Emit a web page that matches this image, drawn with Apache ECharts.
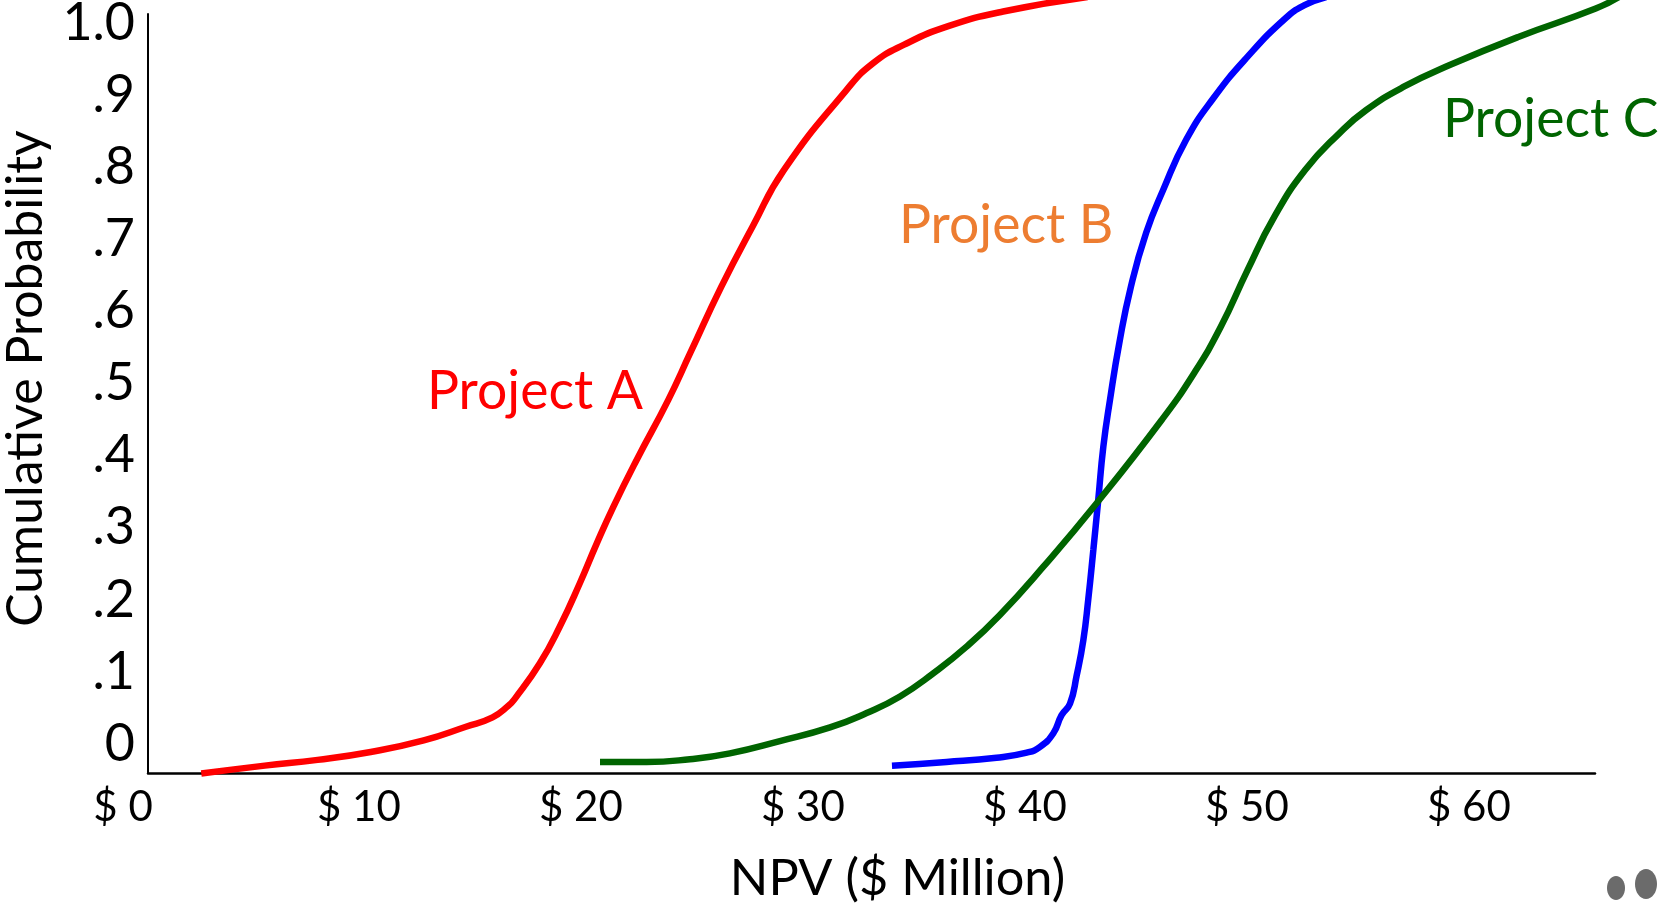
<!DOCTYPE html>
<html>
<head>
<meta charset="utf-8">
<title>NPV cumulative probability</title>
<script src="https://cdn.jsdelivr.net/npm/echarts@6/dist/echarts.min.js"></script>
<style>
html, body { margin: 0; padding: 0; background: #fff; }
#chart { width: 1661px; height: 904px; }
</style>
</head>
<body>
<div id="chart"></div>
<script>
// tick labels
const xTickValues = [0.5, 10, 20, 30, 40, 50, 60]
const xTickLabels = ['$ 0', '$ 10', '$ 20', '$ 30', '$ 40', '$ 50', '$ 60']
const yTickValues = [0, 0.1, 0.2, 0.3, 0.4, 0.5, 0.6, 0.7, 0.8, 0.9, 1]
const yTickLabels = ['0', '.1', '.2', '.3', '.4', '.5', '.6', '.7', '.8', '.9', '1.0']

// values: [NPV, cumulative probability]
const projectA = [
    [2.9, -0.041], [5.76, -0.03], [8.14, -0.022], [10.53, -0.011], [12.92, 0.005],
    [14.82, 0.024], [16.02, 0.037], [16.73, 0.053], [17.03, 0.063], [18.15, 0.112],
    [19.05, 0.163], [19.95, 0.223], [20.71, 0.278], [21.46, 0.329], [22.51, 0.394],
    [23.93, 0.477], [24.92, 0.542], [26.32, 0.634], [27.74, 0.718], [29.14, 0.796],
    [31.96, 0.907], [33.15, 0.944], [34.56, 0.97], [36.58, 0.996],
    [39.02, 1.016], [42.82, 1.036],
]
const projectB = [
    [34.01, -0.03], [36.47, -0.025], [38.72, -0.019], [40.08, -0.012], [40.68, -0.004],
    [41.28, 0.015], [41.65, 0.04], [42.03, 0.056], [42.33, 0.095], [42.63, 0.144],
    [42.85, 0.2], [43.08, 0.269], [43.3, 0.338], [43.53, 0.412], [43.83, 0.477],
    [44.25, 0.556], [44.77, 0.634], [45.46, 0.709], [46.22, 0.768], [47.26, 0.838],
    [48.47, 0.895], [50.02, 0.953], [51.75, 1.007], [52.62, 1.025], [53.57, 1.036],
]
const projectC = [
    [20.86, -0.025], [22.96, -0.025], [24.91, -0.021], [26.71, -0.013], [28.96, 0.004],
    [31.22, 0.023], [32.87, 0.043], [34.37, 0.066], [35.87, 0.098], [37.37, 0.135],
    [38.87, 0.179], [40.83, 0.246], [43.23, 0.334], [46.15, 0.449],
    [47.61, 0.514], [48.81, 0.578], [50.02, 0.657], [51.23, 0.731], [52.62, 0.796],
    [54.16, 0.847], [55.36, 0.879], [57.09, 0.912], [59.16, 0.942], [62.25, 0.981],
    [65.71, 1.02], [66.75, 1.036],
]

const FONT = 'Lato'
const Y_MIN = -0.0402
const Y_MAX = 1.0125

function curve(name, data, color) {
    return {
        name,
        type: 'line',
        // clip:false does not lift the clip along the x axis, so the curves live on a wider hidden grid
        xAxisIndex: 1,
        yAxisIndex: 1,
        data,
        smooth: 0.5,
        symbol: 'none',
        clip: false,
        lineStyle: { color, width: 6.5 },
        animation: false,
    }
}

function projectLabel(text, left, top, fill) {
    return {
        type: 'text',
        left,
        top,
        style: { text, fill, font: '53.5px ' + FONT },
    }
}

const chart = echarts.init(document.getElementById('chart'), null, { renderer: 'canvas' })

chart.setOption({
    animation: false,
    backgroundColor: '#fff',
    grid: [
        { left: 148, right: 66, top: 14, bottom: 131, outerBoundsMode: 'none' },
        { left: 148, right: 0, top: 14, bottom: 131, outerBoundsMode: 'none' },
    ],
    xAxis: [{
        type: 'value',
        gridIndex: 0,
        min: 0.5,
        max: 65.68,
        splitLine: { show: false },
        axisTick: { show: false },
        axisLine: { onZero: false, lineStyle: { color: '#000', width: 2.5 } },
        name: 'NPV ($ Million)',
        nameLocation: 'middle',
        nameGap: 80,
        nameTextStyle: { color: '#000', fontFamily: FONT, fontSize: 50.5, padding: [0, 0, 0, 52] },
        axisLabel: {
            customValues: xTickValues,
            margin: 13,
            color: '#000',
            fontFamily: FONT,
            fontSize: 42,
            formatter: (v) => {
                const label = xTickLabels[xTickValues.indexOf(v)]
                return v === xTickValues[0] ? '{first|' + label + '}' : label
            },
            rich: { first: { fontFamily: FONT, fontSize: 42, color: '#000', padding: [0, 50, 0, 0] } },
        },
    }, {
        type: 'value',
        gridIndex: 1,
        show: false,
        min: 0.5,
        max: 68.65,
    }],
    yAxis: [{
        type: 'value',
        gridIndex: 0,
        min: Y_MIN,
        max: Y_MAX,
        splitLine: { show: false },
        axisTick: { show: false },
        axisLine: { onZero: false, lineStyle: { color: '#000', width: 2 } },
        name: 'Cumulative Probability',
        nameLocation: 'middle',
        nameGap: 97,
        nameTextStyle: { color: '#000', fontFamily: FONT, fontSize: 50, padding: [0, 0, 0, 30] },
        axisLabel: {
            customValues: yTickValues,
            margin: 13,
            color: '#000',
            fontFamily: FONT,
            fontSize: 52,
            padding: [6, 0, 0, 0],
            formatter: (v) => yTickLabels[yTickValues.indexOf(v)],
        },
    }, {
        type: 'value',
        gridIndex: 1,
        show: false,
        min: Y_MIN,
        max: Y_MAX,
    }],
    series: [
        curve('Project A', projectA, '#ff0000'),
        curve('Project B', projectB, '#0000ff'),
        curve('Project C', projectC, '#006400'),
    ],
    graphic: [
        projectLabel('Project A', 427, 365, '#ff0000'),
        projectLabel('Project B', 899, 199, '#ed7d31'),
        projectLabel('Project C', 1443, 93, '#006400'),
        { type: 'ellipse', shape: { cx: 1616, cy: 888, rx: 9, ry: 12 }, style: { fill: '#6b6b6b' } },
        { type: 'ellipse', shape: { cx: 1646, cy: 884, rx: 11, ry: 15 }, style: { fill: '#6b6b6b' } },
    ],
})
</script>
</body>
</html>
